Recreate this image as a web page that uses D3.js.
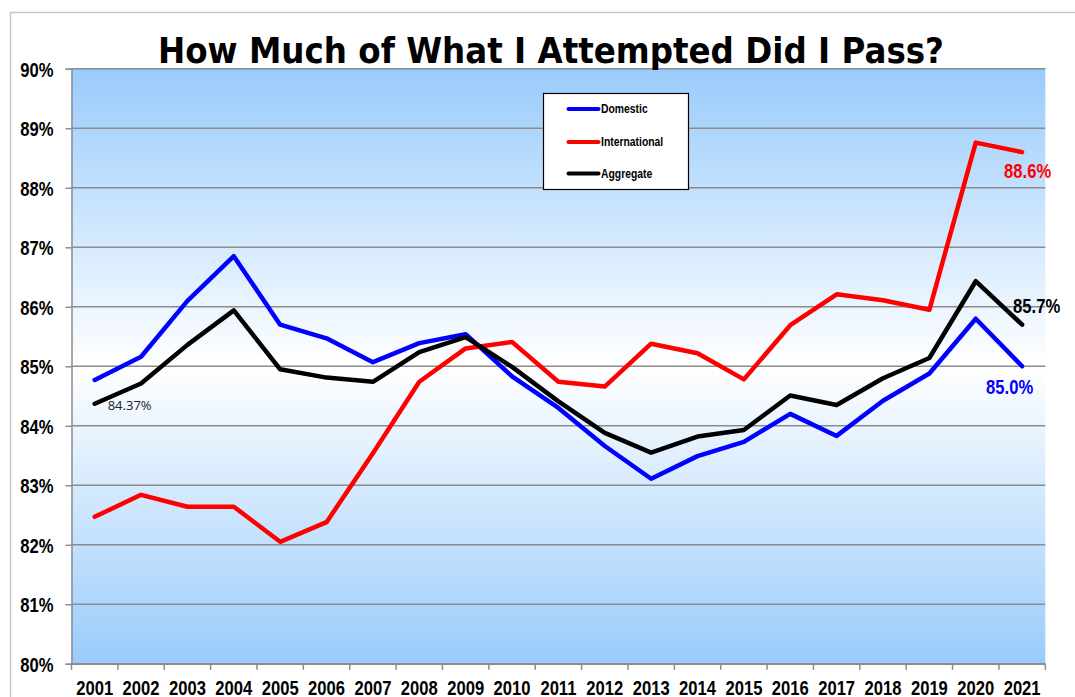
<!DOCTYPE html>
<meta charset="utf-8">
<title>How Much of What I Attempted Did I Pass?</title>
<style>
  body { margin: 0; background: #fff; }
  svg { display: block; }
</style>
<div id="viz"></div>

<script src="https://cdnjs.cloudflare.com/ajax/libs/d3/7.8.5/d3.min.js"></script>
<script>

var years = ["2001", "2002", "2003", "2004", "2005", "2006", "2007", "2008", "2009", "2010", "2011",
             "2012", "2013", "2014", "2015", "2016", "2017", "2018", "2019", "2020", "2021"];

var domestic = [84.77, 85.16, 86.10, 86.85, 85.70, 85.47, 85.07, 85.39, 85.54, 84.83, 84.30,
                83.66, 83.11, 83.49, 83.73, 84.20, 83.83, 84.42, 84.88, 85.80, 85.00];
var international = [82.47, 82.84, 82.64, 82.64, 82.05, 82.38, 83.54, 84.74, 85.30, 85.41, 84.74,
                     84.66, 85.38, 85.22, 84.78, 85.69, 86.21, 86.11, 85.95, 88.76, 88.60];
var aggregate = [84.37, 84.71, 85.36, 85.94, 84.95, 84.81, 84.74, 85.24, 85.49, 84.99, 84.41,
                 83.88, 83.55, 83.82, 83.93, 84.51, 84.35, 84.80, 85.14, 86.43, 85.70];

var yTicks = [80, 81, 82, 83, 84, 85, 86, 87, 88, 89, 90];

var series = [
  { name: "Domestic", values: domestic, color: "#0000ff" },
  { name: "International", values: international, color: "#ff0000" },
  { name: "Aggregate", values: aggregate, color: "#000000" }
];

// value labels: [series index, year, text]
var valueLabels = [
  { s: 1, year: "2021", text: "88.6%", dx: -18, dy: 26, bold: true },
  { s: 2, year: "2021", text: "85.7%", dx: -9, dy: -12, bold: true },
  { s: 0, year: "2021", text: "85.0%", dx: -36, dy: 28, bold: true },
  { s: 2, year: "2001", text: "84.37%", dx: 13, dy: 6, bold: false }
];

var width = 1075;
var height = 697;
var plot = { left: 71.5, right: 1045.3, top: 68.8, bottom: 663.8 };
var narrow = "'Liberation Sans Narrow', 'Arial Narrow', 'Liberation Sans', Arial, sans-serif";

// no narrow font installed, so squeeze the bold sans to look like Arial Narrow.
// anchor is handled by hand so the squeezed text stays centred / right aligned
function condense(sel, k) {
  sel.each(function() {
    var t = d3.select(this);
    var w = this.getComputedTextLength() * k;
    var anchor = t.attr("text-anchor") || getComputedStyle(this).textAnchor || "start";
    var x0 = +t.attr("x") || 0;
    if (anchor == "middle") x0 -= w / 2;
    else if (anchor == "end") x0 -= w;
    t.attr("text-anchor", "start").attr("x", x0)
      .attr("textLength", w).attr("lengthAdjust", "spacingAndGlyphs");
  });
}

var svg = d3.select("#viz")
  .append("svg")
  .attr("width", width)
  .attr("height", height);

var x = d3.scaleBand().domain(years).range([plot.left, plot.right]).padding(0);
var y = d3.scaleLinear().domain([80, 90]).range([plot.bottom, plot.top]);
var cx = function(d) { return x(d) + x.bandwidth() / 2; };

// outer chart border
svg.append("rect")
  .attr("x", 10.5).attr("y", 12.5)
  .attr("width", width + 20).attr("height", height + 20)
  .attr("fill", "#fff")
  .attr("stroke", "#c6c6c6")
  .attr("stroke-width", 1.5);

var grad = svg.append("defs").append("linearGradient")
  .attr("id", "bg").attr("x1", 0).attr("y1", 0).attr("x2", 0).attr("y2", 1);
grad.append("stop").attr("offset", "0%").attr("stop-color", "#99cbfb");
grad.append("stop").attr("offset", "50%").attr("stop-color", "#ffffff");
grad.append("stop").attr("offset", "100%").attr("stop-color", "#99cbfb");

svg.append("rect")
  .attr("x", plot.left).attr("y", plot.top)
  .attr("width", plot.right - plot.left).attr("height", plot.bottom - plot.top)
  .attr("fill", "url(#bg)");

// gridlines + y axis
var yAxis = svg.append("g")
  .attr("transform", "translate(" + plot.left + ",0)")
  .call(d3.axisLeft(y).tickValues(yTicks).tickSize(6).tickPadding(12)
    .tickFormat(function(d) { return d + "%"; }));
yAxis.select(".domain").attr("stroke", "#8c8c8c").attr("stroke-width", 1.5);
yAxis.selectAll(".tick line").attr("stroke", "#8c8c8c").attr("stroke-width", 1.5);
yAxis.selectAll(".tick text")
  .attr("font-family", narrow).attr("font-weight", "bold").attr("font-size", 20)
  .attr("fill", "#000").attr("dy", "0.36em").attr("text-anchor", "end")
  .call(condense, 0.83);

svg.append("g").selectAll("line")
  .data(yTicks)
  .join("line")
  .attr("x1", plot.left).attr("x2", plot.right)
  .attr("y1", function(d) { return y(d); }).attr("y2", function(d) { return y(d); })
  .attr("stroke", "#8c8c8c")
  .attr("stroke-width", 1.5);

// x axis: ticks sit on the band edges
var xAxis = svg.append("g")
  .attr("transform", "translate(0," + plot.bottom + ")")
  .call(d3.axisBottom(x).tickSize(0).tickPadding(17));
xAxis.select(".domain").attr("stroke", "#8c8c8c").attr("stroke-width", 1.5);
xAxis.selectAll(".tick text")
  .attr("font-family", narrow).attr("font-weight", "bold").attr("font-size", 20)
  .attr("fill", "#000").attr("text-anchor", "middle")
  .call(condense, 0.83);
xAxis.selectAll(".edge")
  .data(years.concat(["end"]))
  .join("line")
  .attr("class", "edge")
  .attr("x1", function(d, i) { return i < years.length ? x(d) : plot.right; })
  .attr("x2", function(d, i) { return i < years.length ? x(d) : plot.right; })
  .attr("y1", 0).attr("y2", 6)
  .attr("stroke", "#8c8c8c")
  .attr("stroke-width", 1.5);

// lines
var line = d3.line()
  .x(function(d, i) { return cx(years[i]); })
  .y(function(d) { return y(d); });

svg.append("g").selectAll("path")
  .data(series)
  .join("path")
  .attr("d", function(d) { return line(d.values); })
  .attr("fill", "none")
  .attr("stroke", function(d) { return d.color; })
  .attr("stroke-width", 4.5)
  .attr("stroke-linejoin", "round")
  .attr("stroke-linecap", "round");

// value labels
svg.append("g").selectAll("text")
  .data(valueLabels)
  .join("text")
  .attr("x", function(d) { return cx(d.year) + d.dx; })
  .attr("y", function(d) { return y(series[d.s].values[years.indexOf(d.year)]) + d.dy; })
  .attr("font-family", function(d) { return d.bold ? narrow : "'Open Sans', sans-serif"; })
  .attr("font-weight", function(d) { return d.bold ? "bold" : "normal"; })
  .attr("font-size", function(d) { return d.bold ? 20 : 13; })
  .attr("fill", function(d) { return d.bold ? series[d.s].color : "#222"; })
  .text(function(d) { return d.text; })
  .filter(function(d) { return d.bold; })
  .call(condense, 0.83);

// legend
var legend = svg.append("g").attr("transform", "translate(543.5,93.5)");
legend.append("rect")
  .attr("width", 145).attr("height", 96)
  .attr("fill", "#fff")
  .attr("stroke", "#000")
  .attr("stroke-width", 1.2);
var rows = legend.selectAll(".row")
  .data(series)
  .join("g")
  .attr("class", "row")
  .attr("transform", function(d, i) { return "translate(0," + [15.5, 48.5, 80][i] + ")"; });
rows.append("line")
  .attr("x1", 25).attr("x2", 55)
  .attr("stroke", function(d) { return d.color; })
  .attr("stroke-width", 4)
  .attr("stroke-linecap", "round");
rows.append("text")
  .attr("x", 57.5).attr("dy", "0.35em")
  .attr("font-family", narrow).attr("font-weight", "bold").attr("font-size", 12.5)
  .text(function(d) { return d.name; })
  .call(condense, 0.83);

// title
svg.append("text")
  .attr("x", 158).attr("y", 63)
  .attr("font-family", "'Comic Sans MS', 'DejaVu Sans', sans-serif")
  .attr("font-weight", "bold")
  .attr("font-size", 35)
  .attr("textLength", 786)
  .attr("lengthAdjust", "spacingAndGlyphs")
  .text("How Much of What I Attempted Did I Pass?");

</script>
